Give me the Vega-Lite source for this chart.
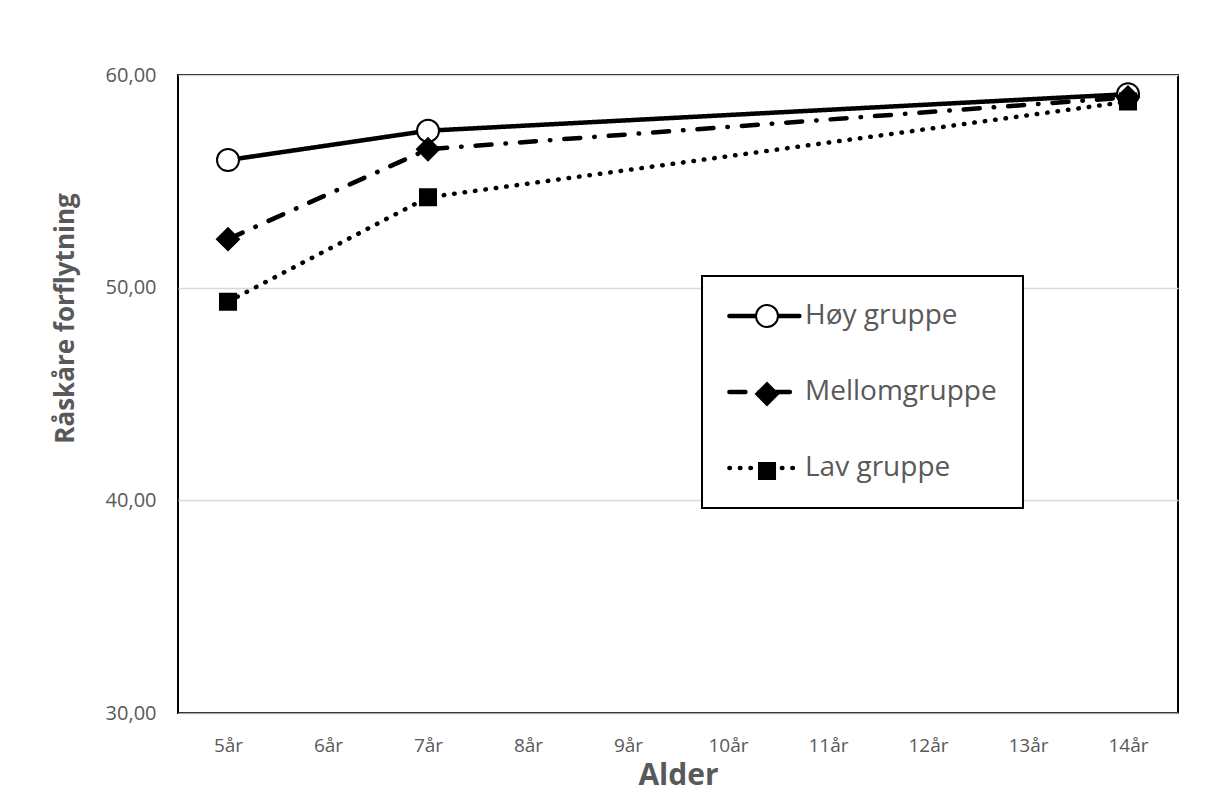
{
  "$schema": "https://vega.github.io/schema/vega-lite/v6.json",
  "width": 1000,
  "height": 638,
  "autosize": {"type": "none"},
  "padding": {"left": 178, "top": 75, "right": 28, "bottom": 80},
  "background": "white",
  "config": {
    "font": "Open Sans",
    "view": {"stroke": "black", "strokeWidth": 2}
  },
  "data": {
    "values": [
      {"alder": "5år", "n": 5, "gruppe": "Høy gruppe", "serie": "Høy gruppe", "verdi": 56.0},
      {"alder": "7år", "n": 7, "gruppe": "Høy gruppe", "serie": "Høy gruppe", "verdi": 57.38},
      {"alder": "14år", "n": 14, "gruppe": "Høy gruppe", "serie": "Høy gruppe", "verdi": 59.1},
      {"alder": "5år", "n": 5, "gruppe": "Mellomgruppe", "serie": "Mellomgruppe", "verdi": 52.28},
      {"alder": "7år", "n": 7, "gruppe": "Mellomgruppe", "serie": "Mellomgruppe", "verdi": 56.51},
      {"alder": "14år", "n": 14, "gruppe": "Mellomgruppe", "serie": "Mellomgruppe", "verdi": 58.95},
      {"alder": "5år", "n": 5, "gruppe": "Lav gruppe", "serie": "Lav gruppe", "verdi": 49.34},
      {"alder": "7år", "n": 7, "gruppe": "Lav gruppe", "serie": "Lav gruppe", "verdi": 54.25},
      {"alder": "14år", "n": 14, "gruppe": "Lav gruppe", "serie": "Lav gruppe", "verdi": 58.75}
    ]
  },
  "encoding": {
    "x": {
      "field": "alder",
      "type": "ordinal",
      "scale": {
        "type": "point",
        "domain": ["5år", "6år", "7år", "8år", "9år", "10år", "11år", "12år", "13år", "14år"],
        "padding": 0.5
      },
      "axis": {
        "title": "Alder",
        "titleFont": "Open Sans",
        "titleFontSize": 30,
        "titleFontWeight": "bold",
        "titleColor": "#595959",
        "titlePadding": 5,
        "labelFont": "Open Sans",
        "labelFontSize": 19,
        "labelColor": "#595959",
        "labelAngle": 0,
        "labelPadding": 23,
        "ticks": false,
        "domain": true,
        "domainColor": "#a6a6a6",
        "domainWidth": 1,
        "grid": false
      }
    },
    "y": {
      "field": "verdi",
      "type": "quantitative",
      "scale": {"domain": [30, 60], "nice": false, "zero": false},
      "axis": {
        "title": "Råskåre forflytning",
        "titleFont": "Open Sans",
        "titleFontSize": 26,
        "titleFontWeight": "bold",
        "titleColor": "#595959",
        "titleAngle": -90,
        "titleAlign": "center",
        "titleBaseline": "middle",
        "titleX": -113,
        "titleY": 243,
        "values": [30, 40, 50, 60],
        "labelExpr": "replace(format(datum.value, '.2f'), '.', ',')",
        "labelFont": "Open Sans",
        "labelFontSize": 20,
        "labelColor": "#595959",
        "labelPadding": 22,
        "ticks": false,
        "domain": false,
        "grid": true,
        "gridColor": "#d9d9d9",
        "gridWidth": 1.3
      }
    },
    "order": {"field": "n", "type": "quantitative"}
  },
  "layer": [
    {
      "mark": {"type": "line", "stroke": "black", "strokeWidth": 4.5, "strokeCap": "round"},
      "encoding": {
        "strokeDash": {
          "field": "gruppe",
          "type": "nominal",
          "sort": ["Høy gruppe", "Mellomgruppe", "Lav gruppe"],
          "scale": {"range": [[1, 0], [16, 14, 0.5, 14], [0.5, 10]]},
          "legend": {
            "title": null,
            "orient": "none",
            "legendX": 524,
            "legendY": 201,
            "symbolType": "M-1.8,0H8.2",
            "symbolSize": 196,
            "symbolStrokeWidth": 4.5,
            "symbolStrokeColor": "black",
            "labelFont": "Open Sans",
            "labelFontSize": 28,
            "labelColor": "#595959",
            "labelOffset": 49,
            "labelLimit": 400,
            "padding": 26,
            "rowPadding": 48,
            "strokeColor": "black",
            "fillColor": "white",
            "encode": {
              "legend": {"update": {"strokeWidth": {"value": 2}}},
              "symbols": {"update": {"strokeCap": {"value": "round"}}}
            }
          }
        }
      }
    },
    {
      "mark": {"type": "point", "filled": true, "stroke": "black", "strokeWidth": 2, "opacity": 1, "size": 484},
      "encoding": {
        "shape": {
          "field": "serie",
          "type": "nominal",
          "sort": ["Høy gruppe", "Mellomgruppe", "Lav gruppe"],
          "scale": {"range": ["circle", "M-1,0L0,-1L1,0L0,1Z", "M-0.73,-0.73H0.73V0.73H-0.73Z"]},
          "legend": {
            "title": null,
            "orient": "none",
            "legendX": 549,
            "legendY": 201,
            "symbolSize": 484,
            "labelFont": "Open Sans",
            "labelFontSize": 28,
            "labelOpacity": 0,
            "labelOffset": 4,
            "padding": 26,
            "rowPadding": 48,
            "symbolFillColor": {"expr": "datum.value === 'Høy gruppe' ? 'white' : 'black'"},
            "symbolStrokeColor": "black",
            "symbolStrokeWidth": 2,
            "symbolOpacity": 1
          }
        },
        "fill": {
          "field": "serie",
          "type": "nominal",
          "sort": ["Høy gruppe", "Mellomgruppe", "Lav gruppe"],
          "scale": {"range": ["white", "black", "black"]},
          "legend": null
        }
      }
    }
  ]
}
